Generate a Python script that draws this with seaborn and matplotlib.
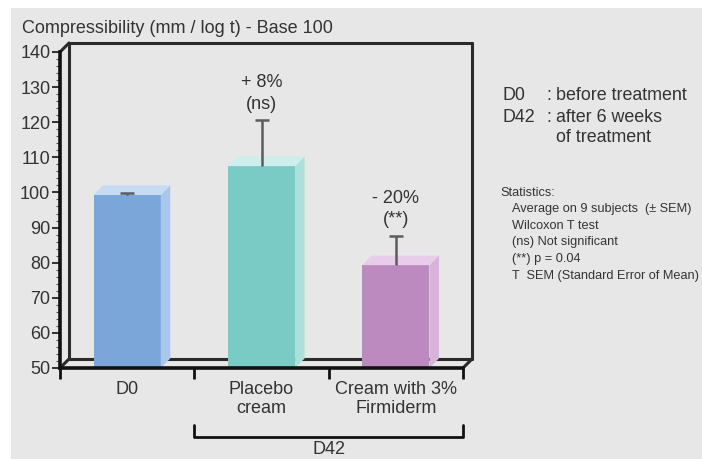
import matplotlib
matplotlib.use("Agg")
import matplotlib.pyplot as plt
import matplotlib.transforms as mtransforms
from matplotlib.patches import Polygon, Rectangle
import seaborn as sns

# data
categories = ["D0", "Placebo\ncream", "Cream with 3%\nFirmiderm"]
values = [99.3, 107.5, 79.3]
sems = [0.4, 13.0, 8.3]
changes = ["", "+ 8%", "- 20%"]
signif = ["", "(ns)", "(**)"]

front_colors = ["#7aa6d9", "#7acbc5", "#bc8abf"]
side_colors = ["#a9c6ec", "#abe0dc", "#d8b3d9"]
top_colors = ["#c7dbf3", "#cdeeea", "#e8cce9"]

sns.set_style("white")
plt.rcParams["font.family"] = ["Liberation Sans", "DejaVu Sans"]
txt = "#333333"

fig = plt.figure(figsize=(7.02, 4.59), dpi=100)
fig.patch.set_facecolor("white")
fig.add_artist(Rectangle((11 / 702, 0), 1, 1 - 8 / 459, transform=fig.transFigure,
                         facecolor="#e7e7e7", edgecolor="none", zorder=-10))

ax = fig.add_axes([60 / 702, 91 / 459, 403 / 702, 316 / 459])
ax.set_facecolor("none")

sns.barplot(x=categories, y=values, hue=categories, palette=front_colors,
            width=0.5, legend=False, saturation=1, linewidth=0, ax=ax, zorder=3)
ax.set_ylim(50, 140)
ax.set_xlim(-0.5, 2.5)

# pseudo 3D depth (pixels -> data units)
ddx = 9 / 134.3
ddy = 9 / 3.511
bdx = 9.5 / 134.3
bdy = 9.5 / 3.511

# back wall of the box
wall = dict(color="#2a2a2a", lw=2.2, clip_on=False, zorder=1)
x0, x1 = -0.5, 2.5
ax.plot([x0 + ddx, x0 + ddx], [50 + ddy, 140 + ddy], **wall)
ax.plot([x0 + ddx, x1 + ddx], [140 + ddy, 140 + ddy], **wall)
ax.plot([x1 + ddx, x1 + ddx], [140 + ddy, 50 + ddy], **wall)
ax.plot([x0 + ddx, x1 + ddx], [50 + ddy, 50 + ddy], **wall)
ax.plot([x0, x0 + ddx], [140, 140 + ddy], **wall)
ax.plot([x0, x0 + ddx], [50, 50 + ddy], **wall)
ax.plot([x1, x1 + ddx], [50, 50 + ddy], **wall)

# side and top faces of the bars
for i, bar in enumerate(ax.patches):
    bx = bar.get_x()
    bw = bar.get_width()
    h = bar.get_height()
    side = Polygon([(bx + bw, 50), (bx + bw, h), (bx + bw + bdx, h + bdy), (bx + bw + bdx, 50 + bdy)],
                   closed=True, facecolor=side_colors[i], edgecolor="none", zorder=3, clip_on=False)
    top = Polygon([(bx, h), (bx + bw, h), (bx + bw + bdx, h + bdy), (bx + bdx, h + bdy)],
                  closed=True, facecolor=top_colors[i], edgecolor="none", zorder=3, clip_on=False)
    ax.add_patch(side)
    ax.add_patch(top)

eb = ax.errorbar(x=range(len(values)), y=values, yerr=[[0] * len(sems), sems], fmt="none",
                 ecolor="#5c5c5c", elinewidth=1.8, capsize=5, capthick=1.8, zorder=5)
# only the upper cap is drawn in the original
eb.lines[1][0].set_visible(False)

for i, (c, s) in enumerate(zip(changes, signif)):
    if c:
        top_err = values[i] + sems[i]
        ax.text(i, top_err + 10.7, c, ha="center", va="center", fontsize=13, color=txt)
        ax.text(i, top_err + 4.6, s, ha="center", va="center", fontsize=13, color=txt)

# axes styling
for sp in ["top", "right"]:
    ax.spines[sp].set_visible(False)
for sp in ["left", "bottom"]:
    ax.spines[sp].set_linewidth(2.6)
    ax.spines[sp].set_color("#111111")
    ax.spines[sp].set_zorder(6)

ax.set_yticks(range(50, 141, 10))
ax.set_yticks(range(50, 141, 2), minor=True)
ax.tick_params(axis="y", which="major", length=6, width=1.3, color="#222222",
               labelsize=13, labelcolor=txt, pad=1, left=True)
ax.tick_params(axis="y", which="minor", length=3, width=0.8, color="#555555", left=True)

ax.set_xticks([0, 1, 2], categories)
ax.set_xticks([-0.5, 0.5, 1.5, 2.5], minor=True)
ax.tick_params(axis="x", which="major", length=0, labelsize=13, labelcolor=txt, pad=9)
ax.tick_params(axis="x", which="minor", length=8, width=2, color="#111111", bottom=True)
ax.set_xlabel("")
ax.set_ylabel("")
for lab in ax.get_xticklabels():
    lab.set_linespacing(1.2)
    lab.set_verticalalignment("top")

# D42 bracket under the two treated groups
btr = mtransforms.blended_transform_factory(ax.transData, fig.transFigure)
ax.plot([0.5, 0.5, 2.5, 2.5], [1 - 425 / 459, 1 - 437 / 459, 1 - 437 / 459, 1 - 425 / 459],
        color="#111111", lw=2, transform=btr, clip_on=False)
ax.text(1.5, 1 - 450 / 459, "D42", transform=btr, ha="center", va="center",
        fontsize=13, color=txt)

fig.text(22 / 702, 1 - 33 / 459, "Compressibility (mm / log t) - Base 100",
         fontsize=13, color=txt, va="baseline", ha="left")

# legend notes on the right
fs = 12.9
fig.text(503 / 702, 1 - 96 / 459, "D0", fontsize=fs, color=txt, va="center")
fig.text(503 / 702, 1 - 117 / 459, "D42", fontsize=fs, color=txt, va="center")
fig.text(546 / 702, 1 - 96 / 459, ":", fontsize=fs, color=txt, va="center")
fig.text(546 / 702, 1 - 117 / 459, ":", fontsize=fs, color=txt, va="center")
fig.text(556 / 702, 1 - 96 / 459, "before treatment", fontsize=fs, color=txt, va="center")
fig.text(556 / 702, 1 - 117 / 459, "after 6 weeks", fontsize=fs, color=txt, va="center")
fig.text(556 / 702, 1 - 137 / 459, "of treatment", fontsize=fs, color=txt, va="center")

stats = ["Average on 9 subjects  (\u00b1 SEM)", "Wilcoxon T test", "(ns) Not significant",
         "(**) p = 0.04", "T  SEM (Standard Error of Mean)"]
fig.text(500 / 702, 1 - 193 / 459, "Statistics:", fontsize=9.2, color=txt, va="center")
for k, line in enumerate(stats):
    fig.text(512 / 702, 1 - (209 + 16.7 * k) / 459, line, fontsize=9.2, color=txt, va="center")

fig.savefig("out.png", dpi=100)
